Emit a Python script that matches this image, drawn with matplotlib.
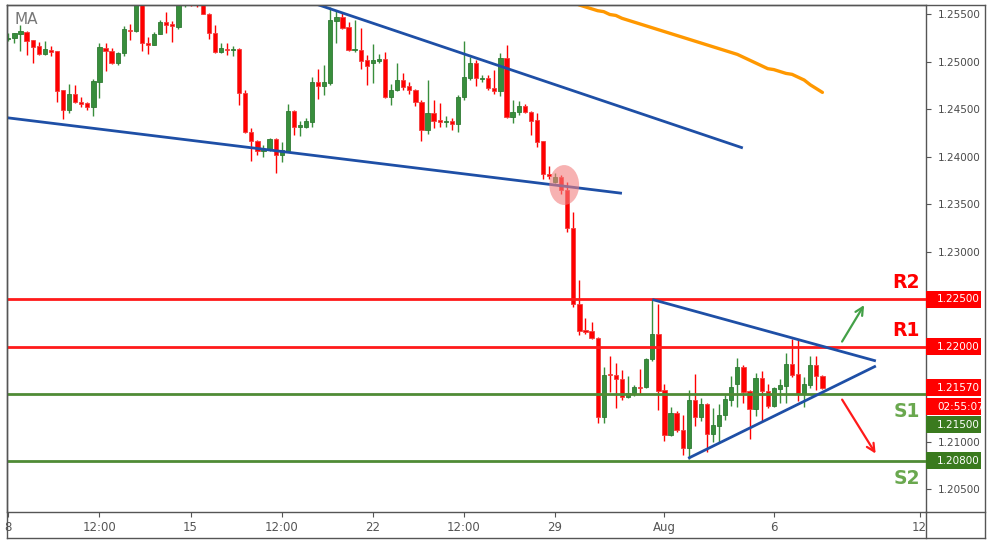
import matplotlib
matplotlib.use('Agg')
import matplotlib.pyplot as plt
from matplotlib import font_manager
from matplotlib.patches import Rectangle, Ellipse
from matplotlib.lines import Line2D
import matplotlib.transforms as mtransforms
import numpy as np

# 4H candles (bar index 0 = first visible bar)
opens = [1.2524, 1.2525, 1.2529, 1.2532, 1.2523, 1.2517, 1.2508, 1.2513, 1.2512, 1.2470,
         1.2449, 1.2466, 1.2458, 1.2457, 1.2453, 1.2479, 1.2515, 1.2512, 1.2499, 1.2509,
         1.2534, 1.2533, 1.2572, 1.2520, 1.2518, 1.2529, 1.2542, 1.2540, 1.2537, 1.2565,
         1.2580, 1.2572, 1.2566, 1.2551, 1.2530, 1.2510, 1.2514, 1.2513, 1.2514, 1.2467,
         1.2426, 1.2417, 1.2406, 1.2407, 1.2419, 1.2402, 1.2406, 1.2448, 1.2432, 1.2432,
         1.2437, 1.2479, 1.2475, 1.2478, 1.2543, 1.2547, 1.2537, 1.2513, 1.2513, 1.2502,
         1.2499, 1.2501, 1.2503, 1.2463, 1.2470, 1.2481, 1.2475, 1.2471, 1.2458, 1.2428,
         1.2446, 1.2439, 1.2437, 1.2438, 1.2435, 1.2463, 1.2483, 1.2499, 1.2482, 1.2483,
         1.2473, 1.2469, 1.2504, 1.2442, 1.2447, 1.2454, 1.2447, 1.2439, 1.2417, 1.2382,
         1.2374, 1.2379, 1.2365, 1.2325, 1.2245, 1.2218, 1.2217, 1.2209, 1.2126, 1.2171,
         1.2170, 1.2166, 1.2147, 1.2152, 1.2158, 1.2158, 1.2187, 1.2214, 1.2155, 1.2107,
         1.2130, 1.2113, 1.2094, 1.2144, 1.2126, 1.2140, 1.2108, 1.2117, 1.2128, 1.2144,
         1.2161, 1.2179, 1.2154, 1.2135, 1.2167, 1.2154, 1.2138, 1.2156, 1.2159, 1.2182,
         1.2172, 1.2150, 1.2160, 1.2181, 1.2169]
highs = [1.2531, 1.2531, 1.2539, 1.2533, 1.2523, 1.2521, 1.2522, 1.2517, 1.2512, 1.2470,
         1.2477, 1.2476, 1.2463, 1.2458, 1.2482, 1.2520, 1.2520, 1.2515, 1.2511, 1.2538,
         1.2540, 1.2580, 1.2578, 1.2526, 1.2532, 1.2544, 1.2553, 1.2543, 1.2570, 1.2580,
         1.2585, 1.2578, 1.2570, 1.2552, 1.2539, 1.2520, 1.2520, 1.2517, 1.2515, 1.2471,
         1.2430, 1.2418, 1.2413, 1.2420, 1.2420, 1.2416, 1.2456, 1.2449, 1.2438, 1.2441,
         1.2484, 1.2493, 1.2497, 1.2558, 1.2555, 1.2553, 1.2542, 1.2544, 1.2536, 1.2507,
         1.2519, 1.2508, 1.2511, 1.2477, 1.2499, 1.2488, 1.2479, 1.2472, 1.2460, 1.2481,
         1.2460, 1.2457, 1.2443, 1.2441, 1.2465, 1.2522, 1.2505, 1.2502, 1.2486, 1.2486,
         1.2492, 1.2509, 1.2518, 1.2460, 1.2459, 1.2456, 1.2448, 1.2446, 1.2417, 1.2391,
         1.2383, 1.2381, 1.2374, 1.2342, 1.2271, 1.2230, 1.2226, 1.2211, 1.2179, 1.2190,
         1.2183, 1.2176, 1.2169, 1.2160, 1.2177, 1.2188, 1.2250, 1.2245, 1.2161, 1.2137,
         1.2133, 1.2128, 1.2155, 1.2172, 1.2146, 1.2141, 1.2136, 1.2140, 1.2149, 1.2169,
         1.2188, 1.2181, 1.2155, 1.2173, 1.2175, 1.2161, 1.2158, 1.2166, 1.2194, 1.2208,
         1.2207, 1.2168, 1.2191, 1.2190, 1.2171]
lows = [1.2522, 1.2520, 1.2512, 1.2507, 1.2499, 1.2507, 1.2507, 1.2506, 1.2458, 1.2440,
        1.2446, 1.2457, 1.2453, 1.2449, 1.2443, 1.2462, 1.2490, 1.2498, 1.2497, 1.2506,
        1.2523, 1.2532, 1.2512, 1.2508, 1.2518, 1.2529, 1.2531, 1.2521, 1.2535, 1.2558,
        1.2559, 1.2558, 1.2550, 1.2524, 1.2509, 1.2509, 1.2507, 1.2506, 1.2455, 1.2425,
        1.2396, 1.2402, 1.2400, 1.2406, 1.2383, 1.2395, 1.2405, 1.2423, 1.2422, 1.2431,
        1.2432, 1.2461, 1.2465, 1.2476, 1.2520, 1.2535, 1.2512, 1.2510, 1.2493, 1.2476,
        1.2478, 1.2499, 1.2462, 1.2455, 1.2469, 1.2471, 1.2466, 1.2454, 1.2417, 1.2424,
        1.2431, 1.2432, 1.2432, 1.2428, 1.2426, 1.2460, 1.2481, 1.2475, 1.2479, 1.2471,
        1.2466, 1.2464, 1.2441, 1.2436, 1.2444, 1.2446, 1.2423, 1.2411, 1.2377, 1.2377,
        1.2373, 1.2361, 1.2321, 1.2242, 1.2213, 1.2214, 1.2208, 1.2120, 1.2120, 1.2153,
        1.2136, 1.2144, 1.2146, 1.2148, 1.2151, 1.2157, 1.2185, 1.2134, 1.2101, 1.2106,
        1.2110, 1.2086, 1.2082, 1.2117, 1.2122, 1.2089, 1.2100, 1.2100, 1.2123, 1.2138,
        1.2137, 1.2141, 1.2103, 1.2127, 1.2122, 1.2136, 1.2137, 1.2141, 1.2141, 1.2168,
        1.2143, 1.2137, 1.2157, 1.2155, 1.2156]
closes = [1.2525, 1.2530, 1.2533, 1.2522, 1.2516, 1.2508, 1.2514, 1.2511, 1.2469, 1.2449,
          1.2466, 1.2458, 1.2456, 1.2453, 1.2480, 1.2516, 1.2512, 1.2499, 1.2509, 1.2535,
          1.2533, 1.2575, 1.2520, 1.2518, 1.2529, 1.2542, 1.2539, 1.2538, 1.2568, 1.2575,
          1.2570, 1.2566, 1.2551, 1.2530, 1.2510, 1.2515, 1.2513, 1.2514, 1.2467, 1.2426,
          1.2417, 1.2406, 1.2408, 1.2419, 1.2402, 1.2407, 1.2448, 1.2432, 1.2433, 1.2438,
          1.2479, 1.2475, 1.2479, 1.2544, 1.2547, 1.2536, 1.2513, 1.2514, 1.2501, 1.2496,
          1.2502, 1.2503, 1.2463, 1.2471, 1.2481, 1.2474, 1.2471, 1.2458, 1.2428, 1.2446,
          1.2438, 1.2437, 1.2438, 1.2435, 1.2463, 1.2484, 1.2499, 1.2483, 1.2483, 1.2473,
          1.2469, 1.2504, 1.2442, 1.2447, 1.2454, 1.2447, 1.2438, 1.2416, 1.2382, 1.2380,
          1.2379, 1.2365, 1.2325, 1.2245, 1.2217, 1.2216, 1.2209, 1.2126, 1.2171, 1.2170,
          1.2166, 1.2147, 1.2152, 1.2158, 1.2157, 1.2187, 1.2214, 1.2154, 1.2107, 1.2130,
          1.2113, 1.2094, 1.2144, 1.2126, 1.2140, 1.2108, 1.2118, 1.2128, 1.2145, 1.2158,
          1.2179, 1.2153, 1.2135, 1.2167, 1.2154, 1.2138, 1.2157, 1.2160, 1.2182, 1.2171,
          1.2151, 1.2161, 1.2181, 1.2169, 1.2157]

# moving average, only the part that is inside the window (from bar 92)
ma_first_bar = 92
ma_values = [1.2565, 1.2563, 1.2560, 1.2558, 1.2556, 1.2554, 1.2553, 1.2550, 1.2549, 1.2546,
             1.2544, 1.2542, 1.2540, 1.2538, 1.2536, 1.2534, 1.2532, 1.2530, 1.2528, 1.2526,
             1.2524, 1.2522, 1.2520, 1.2518, 1.2516, 1.2514, 1.2512, 1.2510, 1.2508, 1.2505,
             1.2502, 1.2499, 1.2496, 1.2493, 1.2492, 1.2490, 1.2488, 1.2487, 1.2484, 1.2481,
             1.2476, 1.2472, 1.2468]

x_tick_bars = [0, 15, 30, 45, 60, 75, 90, 108, 126, 150]
x_tick_labels = ['8', '12:00', '15', '12:00', '22', '12:00', '29', 'Aug', '6', '12']
y_ticks = [1.205, 1.210, 1.215, 1.220, 1.225, 1.230, 1.235, 1.240, 1.245, 1.250, 1.255]

res_names = ['R2', 'R1']
res_levels = [1.2250, 1.2200]
sup_names = ['S1', 'S2']
sup_levels = [1.2150, 1.2080]
last_price = 1.2157
countdown = '02:55:07'

# drawn trendlines: (bar, price) -> (bar, price)
trendlines = [[(-0.3, 1.24414), (101.0, 1.23618)],
              [(50.8, 1.25607), (120.9, 1.24095)],
              [(106.0, 1.22500), (142.8, 1.21853)],
              [(111.9, 1.20828), (142.8, 1.21800)]]
arrow_up = [(137.0, 1.22032), (141.1, 1.22466)]
arrow_down = [(137.0, 1.21471), (143.0, 1.20853)]
breakout_mark = (91.5, 1.23705)

GREEN = '#388e3c'
RED = '#ff0000'
BLUE = '#1e4fa6'
FRAME = '#555555'

names = {f.name for f in font_manager.fontManager.ttflist}
narrow = 'Liberation Sans Narrow' if 'Liberation Sans Narrow' in names else 'DejaVu Sans'

W, H = 991, 543
fig = plt.figure(figsize=(W / 100, H / 100), dpi=100)
fig.patch.set_facecolor('white')
px_l, px_r, px_t, px_b = 7, 926, 5, 512
ax = fig.add_axes([px_l / W, 1 - px_b / H, (px_r - px_l) / W, (px_b - px_t) / H])
ax.set_xlim(-0.22, 151.05)
ax.set_ylim(1.20263, 1.2560)

idx = np.arange(len(opens))
o = np.array(opens)
h = np.array(highs)
l = np.array(lows)
c = np.array(closes)
up = c >= o
cols = np.where(up, GREEN, RED)

ax.vlines(idx, l, h, colors=cols, linewidth=1.0, zorder=3)
body_lo = np.minimum(o, c)
body_h = np.maximum(np.abs(c - o), 0.00012)
ax.bar(idx, body_h, bottom=body_lo, width=0.7, color=cols,
       edgecolor=np.where(up, '#2f7a33', '#f04040'), linewidth=0.6, zorder=4)

# moving average
ma_x = np.arange(ma_first_bar, ma_first_bar + len(ma_values))
ax.plot(ma_x, ma_values, color='#ff9800', linewidth=2.4, zorder=5, solid_capstyle='round')

# support / resistance lines
for lev in res_levels:
    ax.axhline(lev, color='#ff1a1a', linewidth=2.0, zorder=5)
for lev in sup_levels:
    ax.axhline(lev, color='#4f8b35', linewidth=2.0, zorder=5)

for (x0, y0), (x1, y1) in trendlines:
    ax.plot([x0, x1], [y0, y1], color=BLUE, linewidth=2.0, zorder=6, solid_capstyle='butt')

ax.add_patch(Ellipse(breakout_mark, 4.9, 0.0042, facecolor='#f28080', alpha=0.6,
                     edgecolor='none', zorder=7))

ax.annotate('', xy=arrow_up[1], xytext=arrow_up[0],
            arrowprops=dict(arrowstyle='->', color='#43a047', lw=1.6,
                            mutation_scale=14), zorder=7)
ax.annotate('', xy=arrow_down[1], xytext=arrow_down[0],
            arrowprops=dict(arrowstyle='->', color='#ff1a1a', lw=1.6,
                            mutation_scale=14), zorder=7)

# level labels
blend = mtransforms.blended_transform_factory(ax.transAxes, ax.transData)
ppx = (1.2560 - 1.20263) / (px_b - px_t)   # price per pixel
for name, lev in zip(res_names, res_levels):
    ax.text(0.9935, lev + 7 * ppx, name, transform=blend, ha='right', va='bottom',
            color=RED, fontsize=13.5, fontweight='bold', zorder=8)
for name, lev in zip(sup_names, sup_levels):
    ax.text(0.9935, lev - 8 * ppx, name, transform=blend, ha='right', va='top',
            color='#6aa84f', fontsize=13.5, fontweight='bold', zorder=8)

ax.text(8 / (px_r - px_l), 0.972, 'MA', transform=ax.transAxes, ha='left', va='center',
        color='#777777', fontsize=11)

# axes styling
for s in ax.spines.values():
    s.set_color(FRAME)
    s.set_linewidth(1.0)
ax.yaxis.tick_right()
ax.set_yticks(y_ticks)
# values under the coloured price tags are hidden, as on the scale of the chart
covered = set(res_levels) | {sup_levels[0]}
ax.set_yticklabels(['' if v in covered else '%.5f' % v for v in y_ticks])
ax.tick_params(axis='y', direction='out', length=3.5, width=0.8, color=FRAME,
               labelsize=7.5, labelcolor='#4a4a4a', pad=5)
ax.set_xticks(x_tick_bars)
ax.set_xticklabels(x_tick_labels, fontfamily=narrow)
ax.tick_params(axis='x', direction='out', length=3.5, width=0.8, color=FRAME,
               labelsize=8.5, labelcolor='#555555', pad=3)

# price tags on the scale
tag_w = 55 / (px_r - px_l)
tag_h = 17 * ppx
tags = [(res_levels[0], '%.5f' % res_levels[0], RED),
        (res_levels[1], '%.5f' % res_levels[1], RED),
        (last_price, '%.5f' % last_price, RED),
        (last_price - 19 * ppx, countdown, RED),
        (last_price - 37 * ppx, '%.5f' % sup_levels[0], '#3a7a1e'),
        (sup_levels[1], '%.5f' % sup_levels[1], '#3a7a1e')]
for y, txt, col in tags:
    ax.add_patch(Rectangle((1.0 + 0.5 / (px_r - px_l), y - tag_h / 2), tag_w, tag_h,
                           transform=blend, facecolor=col, edgecolor='none',
                           clip_on=False, zorder=9))
    ax.text(1.0 + 11 / (px_r - px_l), y, txt, transform=blend, ha='left', va='center',
            color='white', fontsize=7.5, clip_on=False, zorder=10)

# outer frame of the chart window
def fig_line(x0, y0, x1, y1):
    fig.add_artist(Line2D([x0 / W, x1 / W], [1 - y0 / H, 1 - y1 / H],
                          transform=fig.transFigure, color=FRAME, linewidth=1.0))

fig_line(px_l, px_t, 985, px_t)
fig_line(985, px_t, 985, 538)
fig_line(px_l, 538, 985, 538)
fig_line(px_l, px_t, px_l, 538)
fig_line(px_r, px_b, px_r, 538)
fig_line(px_r, px_b, 985, px_b)

fig.savefig('out.png', dpi=100)
